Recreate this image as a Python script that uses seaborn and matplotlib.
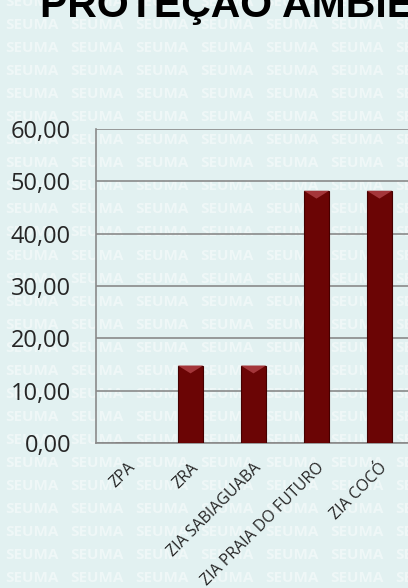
import matplotlib
matplotlib.use('Agg')
import matplotlib.pyplot as plt
import seaborn as sns
import pandas as pd
from matplotlib.patches import Polygon

# Data
zonas = ['ZPA', 'ZRA', 'ZIA SABIAGUABA', 'ZIA PRAIA DO FUTURO', 'ZIA COCÓ']
valores = [0.0, 14.8, 14.8, 48.2, 48.2]
yticks = [0, 10, 20, 30, 40, 50, 60]
titulo = 'PROTEÇÃO AMBIENTAL'

df = pd.DataFrame({'zona': zonas, 'valor': valores})

bg = '#e2f1f1'
sns.set_style('white')
plt.rcParams['font.family'] = ['Open Sans', 'DejaVu Sans']

fig = plt.figure(figsize=(4.08, 5.88), dpi=100, facecolor=bg)

# watermark "SEUMA" tiled in the background
for r in range(26):
    y = 1 - (2 + 23.05 * r) / 588
    for c in range(7):
        x = (5 + 65 * c) / 408
        fig.text(x, y, 'SEUMA', color='white', alpha=0.45, fontsize=11,
                 fontweight='bold', ha='left', va='center', zorder=-5)

fig.text(40 / 408, 1 - 17 / 588, titulo, fontsize=29.5, fontweight='bold',
         family='Liberation Sans', color='black', va='baseline', ha='left', zorder=5)

ax = fig.add_axes([96 / 408, 1 - 443 / 588, 315 / 408, 314 / 588])
ax.set_facecolor('none')

sns.barplot(data=df, x='zona', y='valor', ax=ax, color='#6b0505', width=0.4,
            edgecolor='#450000', linewidth=0.8, saturation=1, zorder=3)

# light bevel on the top of each bar
for p in ax.patches:
    h = p.get_height()
    if h <= 0:
        continue
    x0, w = p.get_x(), p.get_width()
    ax.add_patch(Polygon([(x0, h), (x0 + w, h), (x0 + w / 2, h - 1.5)],
                         closed=True, facecolor='#a4363a', edgecolor='none', zorder=4))

ax.set_xlim(-0.5, len(zonas) - 0.5)
ax.set_ylim(0, 60)
ax.set_yticks(yticks)
ax.set_yticklabels([f'{v:.2f}'.replace('.', ',') for v in yticks], fontsize=17)
ax.yaxis.grid(True, color='#8a8a8a', linewidth=1.2, zorder=1)
ax.set_axisbelow(True)

ax.set_xticks(range(len(zonas)))
ax.set_xticklabels(zonas, rotation=45, ha='right', rotation_mode='anchor', fontsize=11.5)
ax.set_xticks([i - 0.5 for i in range(len(zonas) + 1)], minor=True)
ax.tick_params(axis='x', which='major', length=0, pad=12)
ax.tick_params(axis='x', which='minor', length=4, color='#8a8a8a', width=1.2, direction='out')
ax.tick_params(axis='y', length=6, color='#8a8a8a', width=1.2, direction='out', pad=12)

ax.set_xlabel('')
ax.set_ylabel('')
for s in ['top', 'right']:
    ax.spines[s].set_visible(False)
for s in ['left', 'bottom']:
    ax.spines[s].set_color('#8a8a8a')
    ax.spines[s].set_linewidth(1.2)

fig.savefig('out.png', dpi=100, facecolor=bg)
